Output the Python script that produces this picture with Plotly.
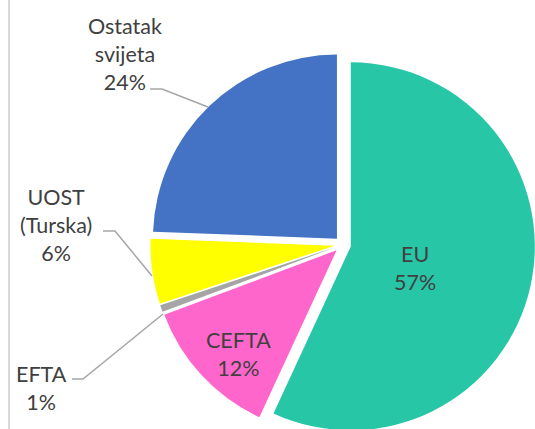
import plotly.graph_objects as go

# ---- data ----
labels = ["EU", "CEFTA", "EFTA", "UOST (Turska)", "Ostatak svijeta"]
values = [56.9, 12.4, 0.6, 5.7, 24.4]
colors = ["#26C6A7", "#FF66CC", "#A5A5A5", "#FFFF00", "#4472C4"]

# figure is a little taller than the window: the bottom of the pie is cut
# off by the window edge as in the reference
W, H = 535, 437
FONT = "Lato"
TXT = "#404040"
LINE = "#A6A6A6"

def px(x):
    return x / W

def py(y):
    return 1 - y / H

# pie geometry (pixels)
cx, cy, half = 342.7, 244.6, 192.3

fig = go.Figure(go.Pie(
    labels=labels, values=values, sort=False, direction="clockwise", rotation=0,
    marker=dict(colors=colors, line=dict(width=0)),
    pull=[0.045] * len(values),
    textinfo="none", hoverinfo="none",
    domain=dict(x=[max(0, px(cx - half)), min(1, px(cx + half))],
                y=[max(0, py(cy + half)), min(1, py(cy - half))]),
    showlegend=False,
))

total = sum(values)
pct = [f"{round(v / total * 100)}%" for v in values]

# label positions (pixel centers of text blocks)
label_pos = [(415, 268), (238, 354), (41, 388), (56, 225), (125, 54)]
annotations = []
for lab, p, (x, y) in zip(labels, pct, label_pos):
    annotations.append(dict(
        x=px(x), y=py(y), xref="paper", yref="paper", showarrow=False,
        text=lab.replace(" ", "<br>") + "<br>" + p,
        font=dict(family=FONT, size=21.5, color=TXT), align="center",
        xanchor="center", yanchor="middle",
    ))

shapes = [dict(type="line", xref="paper", yref="paper", x0=px(9), x1=px(9),
               y0=0, y1=1, line=dict(color="#D9D9D9", width=2))]
leaders = [
    [(150, 89), (162, 89), (208, 107)],
    [(103, 231), (115, 231), (152, 276)],
    [(72, 379), (83, 379), (163, 314)],
]
for pts in leaders:
    path = "M " + " L ".join(f"{px(x):.5f},{py(y):.5f}" for x, y in pts)
    shapes.append(dict(type="path", xref="paper", yref="paper", path=path,
                       line=dict(color=LINE, width=1.5)))

fig.update_layout(
    width=W, height=H, margin=dict(l=0, r=0, t=0, b=0),
    paper_bgcolor="white", plot_bgcolor="white",
    annotations=annotations, shapes=shapes,
)
fig.write_html(
    "out.html",
    config={"displayModeBar": False},
    post_script="document.body.style.margin='0';"
                "document.documentElement.style.overflow='hidden';"
                "document.body.style.overflow='hidden';",
)
